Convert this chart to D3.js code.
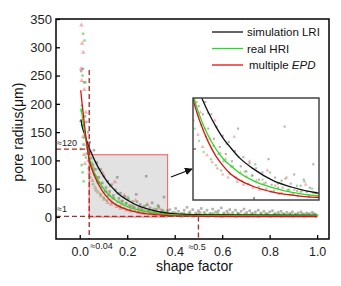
<!DOCTYPE html>
<html>
<head>
<meta charset="utf-8">
<script src="https://cdn.jsdelivr.net/npm/d3@7"></script>
<style>
  body { margin: 0; background: #fff; }
  svg { font-family: Arial, "Liberation Sans", sans-serif; }
</style>
</head>
<body>
<div id="chart"></div>
<script>
// 1. Data

// fitted curves (shape factor -> pore radius)
const simCurveX  = [0.005, 0.01, 0.02, 0.03, 0.04, 0.05, 0.063, 0.08, 0.1, 0.12, 0.137, 0.16, 0.2, 0.25, 0.3, 0.37, 0.45, 0.6, 0.8, 1.0]
const simCurveY  = [172, 160, 147, 134, 122, 112, 100, 86, 72, 60, 52, 42, 30, 19, 12.5, 6.6, 4.5, 3.5, 3, 2.8]
const realCurveX = [0.006, 0.015, 0.025, 0.035, 0.043, 0.06, 0.08, 0.1, 0.12, 0.137, 0.16, 0.2, 0.25, 0.3, 0.37, 0.45, 0.6, 0.8, 1.0]
const realCurveY = [192, 165, 138, 115, 100, 80, 63, 50, 40, 34, 27, 18.5, 12, 7.5, 3.9, 2.8, 2.2, 1.9, 1.8]
const epdCurveX  = [0.004, 0.01, 0.02, 0.03, 0.04, 0.05, 0.06, 0.08, 0.1, 0.12, 0.137, 0.16, 0.2, 0.25, 0.3, 0.37, 0.45, 0.6, 0.8, 1.0]
const epdCurveY  = [224, 200, 163, 128, 100, 86, 75, 57, 43, 33, 26, 20, 13, 7.8, 4.8, 2.3, 1.3, 0.8, 0.5, 0.4]

// scatter points [shape factor, pore radius]
const simPoints = [[0.006,258],[0.013,262],[0.018,238],[0.022,178],[0.028,168],[0.016,128],[0.035,150],[0.03,112],[0.042,132],[0.048,104],[0.055,92],[0.06,118],[0.066,84],[0.072,96],[0.08,70],[0.088,84],[0.095,60],[0.102,72],[0.11,52],[0.118,63],[0.126,45],[0.134,57],[0.142,38],[0.15,48],[0.158,70],[0.165,33],[0.172,42],[0.18,28],[0.188,36],[0.196,24],[0.205,31],[0.213,20],[0.222,27],[0.23,17],[0.238,40],[0.246,15],[0.255,22],[0.263,12],[0.272,19],[0.28,72],[0.288,10],[0.296,16],[0.305,25],[0.313,9],[0.322,14],[0.33,20],[0.338,8],[0.346,12],[0.355,35],[0.362,7],[0.37,11],
  [0.38,13],[0.392,8],[0.404,15],[0.416,10],[0.428,6],[0.44,12],[0.452,17],[0.464,9],[0.476,13],[0.488,7],[0.5,11],[0.512,15],[0.524,8],[0.536,12],[0.548,6],[0.56,14],[0.572,9],[0.584,11],[0.596,16],[0.608,7],[0.62,10],[0.632,13],[0.644,8],[0.656,12],[0.668,6],[0.68,10],[0.692,14],[0.704,8],[0.716,11],[0.728,6],[0.74,9],[0.752,12],[0.764,7],[0.776,10],[0.788,5],[0.8,9],[0.812,11],[0.824,6],[0.836,8],[0.848,10],[0.86,5],[0.872,8],[0.884,6],[0.896,9],[0.908,5],[0.92,7],[0.932,9],[0.944,5],[0.956,7],[0.968,6],[0.98,8],[0.992,5]]
const realPoints = [[0.014,324],[0.02,312],[0.012,250],[0.024,238],[0.009,197],[0.006,188],[0.011,162],[0.004,120],[0.008,92],[0.012,79],[0.016,63],[0.02,140],[0.026,105],[0.032,122],[0.038,86],[0.044,70],[0.05,96],[0.056,58],[0.062,74],[0.068,47],[0.074,62],[0.08,85],[0.087,40],[0.094,53],[0.1,34],[0.107,45],[0.114,29],[0.12,38],[0.128,55],[0.136,26],[0.144,33],[0.152,22],[0.16,42],[0.168,19],[0.176,28],[0.185,16],[0.194,24],[0.203,35],[0.212,13],[0.222,20],[0.232,11],[0.242,27],[0.252,9],[0.262,16],[0.272,7],[0.282,21],[0.292,10],[0.302,6],[0.312,14],[0.322,8],[0.332,18],[0.342,5],[0.352,11],[0.362,7],
  [0.376,6],[0.388,3],[0.4,8],[0.412,4],[0.424,2],[0.436,6],[0.448,3],[0.46,7],[0.472,4],[0.484,2],[0.496,5],[0.508,8],[0.52,3],[0.532,5],[0.544,2],[0.556,6],[0.568,4],[0.58,7],[0.592,3],[0.604,5],[0.616,2],[0.628,6],[0.64,4],[0.652,3],[0.664,7],[0.676,4],[0.688,2],[0.7,5],[0.712,3],[0.724,6],[0.736,4],[0.748,2],[0.76,5],[0.772,3],[0.784,6],[0.796,4],[0.808,2],[0.82,5],[0.832,3],[0.844,4],[0.856,6],[0.868,3],[0.88,2],[0.892,5],[0.904,3],[0.916,4],[0.928,2],[0.94,5],[0.952,3],[0.964,4],[0.976,2],[0.988,5],[1.0,3]]
const epdPoints = [[0.007,339],[0.01,307],[0.015,291],[0.006,262],[0.008,241],[0.019,225],[0.026,185],[0.005,170],[0.014,142],[0.018,110],[0.022,94],[0.03,128],[0.036,100],[0.041,78],[0.047,115],[0.053,64],[0.059,86],[0.065,52],[0.071,70],[0.077,44],[0.084,60],[0.09,37],[0.097,78],[0.104,31],[0.111,46],[0.118,25],[0.125,40],[0.132,22],[0.14,33],[0.148,62],[0.156,18],[0.164,27],[0.172,15],[0.18,23],[0.188,38],[0.197,12],[0.206,19],[0.215,10],[0.225,16],[0.235,29],[0.245,8],[0.255,14],[0.265,6],[0.275,12],[0.285,22],[0.295,5],[0.305,10],[0.315,4],[0.325,9],[0.335,15],[0.345,3],[0.355,7],[0.365,3],
  [0.382,4],[0.394,2],[0.406,6],[0.418,3],[0.43,1],[0.442,5],[0.454,2],[0.466,4],[0.478,1],[0.49,3],[0.502,6],[0.514,2],[0.526,4],[0.538,1],[0.55,3],[0.562,5],[0.574,2],[0.586,4],[0.598,1],[0.61,3],[0.622,5],[0.634,2],[0.646,3],[0.658,1],[0.67,4],[0.682,2],[0.694,5],[0.706,1],[0.718,3],[0.73,2],[0.742,4],[0.754,1],[0.766,3],[0.778,2],[0.79,4],[0.802,1],[0.814,3],[0.826,2],[0.838,4],[0.85,1],[0.862,3],[0.874,2],[0.886,4],[0.898,1],[0.91,3],[0.922,2],[0.934,4],[0.946,1],[0.958,3],[0.97,2],[0.982,4],[0.994,1]]

// axes
const xTicks = [0, 0.2, 0.4, 0.6, 0.8, 1.0]
const yTicks = [0, 50, 100, 150, 200, 250, 300, 350]

// legend
const legendLabels = ["simulation LRI", "real HRI", "multiple "]
const legendColors = ["#111", "#22dd22", "#e01010"]

// guide values (shape factor / radius thresholds) and the zoom box
const guideX = [0.04, 0.5]
const guideY = [120, 1]
const zoomBox = { x0: 0.04, x1: 0.37, y0: 0, y1: 110 }

function drawChart() {

  // 2. dimensions
  let dimensions = {
    width: 341,
    height: 286,
    margin: { top: 19, right: 12, bottom: 47, left: 56 },
  }
  dimensions.boundedWidth = dimensions.width - dimensions.margin.left - dimensions.margin.right
  dimensions.boundedHeight = dimensions.height - dimensions.margin.top - dimensions.margin.bottom

  const wrapper = d3.select("#chart").append("svg")
      .attr("width", dimensions.width)
      .attr("height", dimensions.height)

  const defs = wrapper.append("defs")
  defs.append("marker")
      .attr("id", "arrow")
      .attr("viewBox", "0 0 10 10")
      .attr("refX", 9).attr("refY", 5)
      .attr("markerWidth", 6).attr("markerHeight", 6)
      .attr("orient", "auto")
    .append("path")
      .attr("d", "M0,0 L10,5 L0,10 z")
      .attr("fill", "#111")

  const bounds = wrapper.append("g")
      .attr("transform", `translate(${dimensions.margin.left},${dimensions.margin.top})`)

  // 3. scales
  const xScale = d3.scaleLinear().domain([-0.1, 1.05]).range([0, dimensions.boundedWidth])
  const yScale = d3.scaleLinear().domain([-39, 350]).range([dimensions.boundedHeight, 0])

  // 4. zoom rectangle (shaded)
  bounds.append("rect")
      .attr("x", xScale(zoomBox.x0))
      .attr("y", yScale(zoomBox.y1))
      .attr("width", xScale(zoomBox.x1) - xScale(zoomBox.x0))
      .attr("height", yScale(zoomBox.y0) - yScale(zoomBox.y1))
      .attr("fill", "#d8d8d8")
      .attr("fill-opacity", 0.75)
      .attr("stroke", "#f07070")
      .attr("stroke-width", 1.2)

  // 5. scatter + curves, reusable for the inset
  function drawSeries(g, xS, yS, k) {
    g.append("g").selectAll("rect").data(simPoints).join("rect")
        .attr("x", d => xS(d[0]) - 1.3 * k)
        .attr("y", d => yS(d[1]) - 1.3 * k)
        .attr("width", 2.6 * k).attr("height", 2.6 * k)
        .attr("fill", "#555").attr("fill-opacity", 0.45)

    g.append("g").selectAll("circle").data(realPoints).join("circle")
        .attr("cx", d => xS(d[0]))
        .attr("cy", d => yS(d[1]))
        .attr("r", 1.5 * k)
        .attr("fill", "#33bb33").attr("fill-opacity", 0.5)

    g.append("g").selectAll("path").data(epdPoints).join("path")
        .attr("d", d3.symbol(d3.symbolTriangle, 9 * k * k))
        .attr("transform", d => `translate(${xS(d[0])},${yS(d[1])})`)
        .attr("fill", "#f05050").attr("fill-opacity", 0.45)

    const curves = [
      [simCurveX, simCurveY, legendColors[0]],
      [realCurveX, realCurveY, legendColors[1]],
      [epdCurveX, epdCurveY, legendColors[2]],
    ]
    curves.forEach(([xs, ys, color]) => {
      const line = d3.line()
          .x((d, i) => xS(xs[i]))
          .y(d => yS(d))
          .curve(d3.curveMonotoneX)
      g.append("path")
          .attr("d", line(ys))
          .attr("fill", "none")
          .attr("stroke", color)
          .attr("stroke-width", 1.3)
    })
  }

  drawSeries(bounds, xScale, yScale, 1)

  // 6. dashed guide lines
  const guideColor = "#a83232"
  const guides = [
    [xScale.range()[0], yScale(guideY[0]), xScale(guideX[0]), yScale(guideY[0])],
    [xScale(guideX[0]), yScale(260), xScale(guideX[0]), dimensions.boundedHeight],
    [xScale.range()[0], yScale(guideY[1]), xScale(guideX[1]), yScale(guideY[1])],
    [xScale(guideX[1]), yScale(guideY[1]), xScale(guideX[1]), dimensions.boundedHeight],
  ]
  bounds.append("g").selectAll("line").data(guides).join("line")
      .attr("x1", d => d[0]).attr("y1", d => d[1])
      .attr("x2", d => d[2]).attr("y2", d => d[3])
      .attr("stroke", guideColor)
      .attr("stroke-width", 1.4)
      .attr("stroke-dasharray", "5,3")

  // 7. axes
  const xAxis = bounds.append("g")
      .attr("transform", `translate(0,${dimensions.boundedHeight})`)
      .call(d3.axisBottom(xScale).tickValues(xTicks).tickSize(-4).tickPadding(8).tickFormat(d3.format(".1f")))
  const yAxis = bounds.append("g")
      .call(d3.axisLeft(yScale).tickValues(yTicks).tickSize(-4).tickPadding(4))
  ;[xAxis, yAxis].forEach(a => {
    a.select(".domain").remove()
    a.selectAll(".tick line").attr("stroke", "#000").attr("stroke-width", 1.3)
    a.selectAll("text").attr("fill", "#222").style("font-size", "13px")
  })
  xAxis.selectAll("text").style("font-size", "12.5px")

  // frame
  bounds.append("rect")
      .attr("width", dimensions.boundedWidth)
      .attr("height", dimensions.boundedHeight)
      .attr("fill", "none")
      .attr("stroke", "#000")
      .attr("stroke-width", 1.5)

  // axis titles
  wrapper.append("text")
      .attr("x", dimensions.margin.left + xScale(0.5) - 4)
      .attr("y", 271)
      .attr("text-anchor", "middle")
      .style("font-size", "14px")
      .attr("fill", "#111")
      .text("shape factor")

  wrapper.append("text")
      .attr("transform", `translate(23,${dimensions.margin.top + yScale(150)}) rotate(-90)`)
      .attr("text-anchor", "middle")
      .style("font-size", "14px")
      .attr("fill", "#111")
      .text("pore radius(μm)")

  // 8. approximate-value notes
  const notes = [
    ["≈120", xScale.range()[0] + 1, yScale(guideY[0]) - 3],
    ["≈1", xScale.range()[0] + 1, yScale(guideY[1]) - 4],
    ["≈0.04", xScale(guideX[0]) + 1, dimensions.boundedHeight + 10],
    ["≈0.5", xScale(guideX[1]) - 10, dimensions.boundedHeight + 11],
  ]
  bounds.append("g").selectAll("text").data(notes).join("text")
      .attr("x", d => d[1]).attr("y", d => d[2])
      .style("font-size", "9px")
      .attr("fill", "#222")
      .text(d => d[0])

  // 9. inset zoom
  const inset = { x: 193 - dimensions.margin.left, y: 98 - dimensions.margin.top, w: 126, h: 102 }
  const ixScale = d3.scaleLinear().domain([zoomBox.x0, zoomBox.x1]).range([inset.x, inset.x + inset.w])
  const iyScale = d3.scaleLinear().domain([0, 100]).range([inset.y + inset.h, inset.y])

  bounds.append("rect")
      .attr("x", inset.x).attr("y", inset.y)
      .attr("width", inset.w).attr("height", inset.h)
      .attr("fill", "#fff")

  defs.append("clipPath").attr("id", "insetClip")
    .append("rect")
      .attr("x", inset.x).attr("y", inset.y)
      .attr("width", inset.w).attr("height", inset.h)

  const insetG = bounds.append("g").attr("clip-path", "url(#insetClip)")
  drawSeries(insetG, ixScale, iyScale, 0.8)

  bounds.append("line")
      .attr("x1", inset.x).attr("x2", inset.x + 3)
      .attr("y1", iyScale(50)).attr("y2", iyScale(50))
      .attr("stroke", "#333").attr("stroke-width", 1)
  bounds.append("line")
      .attr("x1", ixScale(0.2)).attr("x2", ixScale(0.2))
      .attr("y1", inset.y + inset.h).attr("y2", inset.y + inset.h - 3)
      .attr("stroke", "#333").attr("stroke-width", 1)

  bounds.append("rect")
      .attr("x", inset.x).attr("y", inset.y)
      .attr("width", inset.w).attr("height", inset.h)
      .attr("fill", "none")
      .attr("stroke", "#444")
      .attr("stroke-width", 1.5)

  // arrow from the shaded box to the inset
  bounds.append("line")
      .attr("x1", 171 - dimensions.margin.left).attr("y1", 177 - dimensions.margin.top)
      .attr("x2", 192 - dimensions.margin.left).attr("y2", 169 - dimensions.margin.top)
      .attr("stroke", "#111")
      .attr("stroke-width", 1.3)
      .attr("marker-end", "url(#arrow)")

  // 10. legend
  const legend = wrapper.append("g").attr("transform", "translate(212,32)")
  const rows = legend.selectAll("g").data(legendLabels).join("g")
      .attr("transform", (d, i) => `translate(0,${i * 16.5})`)
  rows.append("line")
      .attr("x1", 0).attr("x2", 31)
      .attr("stroke", (d, i) => legendColors[i])
      .attr("stroke-width", 1.3)
  const labels = rows.append("text")
      .attr("x", (d, i) => i === 2 ? 37 : 35)
      .attr("y", 4)
      .style("font-size", "11.5px")
      .attr("fill", "#111")
      .text(d => d)
  labels.filter((d, i) => i === 2).append("tspan")
      .style("font-style", "italic")
      .text("EPD")
}

drawChart()
</script>
</body>
</html>
